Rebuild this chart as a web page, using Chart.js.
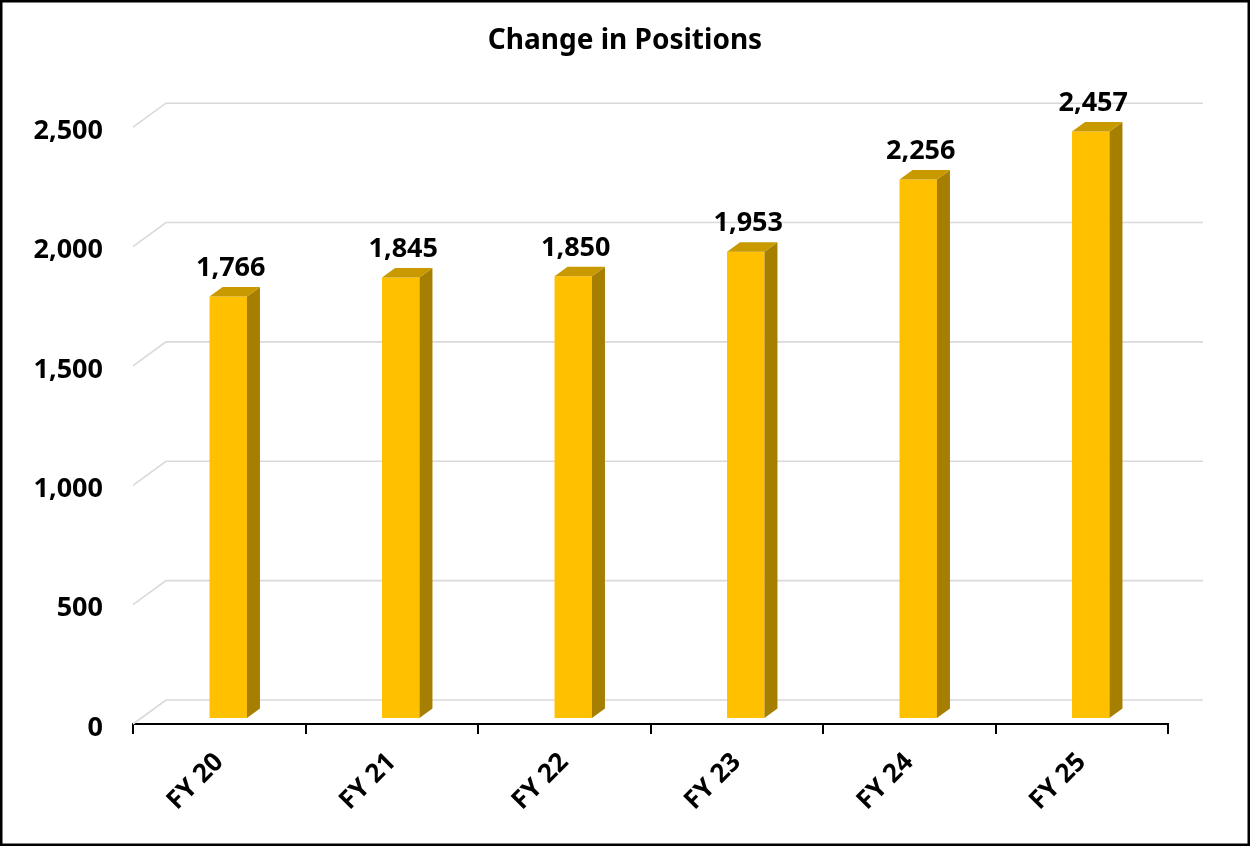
<!DOCTYPE html>
<html>
<head>
<meta charset="utf-8">
<script src="https://cdn.jsdelivr.net/npm/chart.js@4/dist/chart.umd.min.js"></script>
<style>
  html, body { margin: 0; padding: 0; background: #fff; }
  canvas { display: block; }
</style>
</head>
<body>
<canvas id="chart" width="1250" height="846"></canvas>
<script>
const categories = ["FY 20", "FY 21", "FY 22", "FY 23", "FY 24", "FY 25"];
const positions = [1766, 1845, 1850, 1953, 2256, 2457];
const yTicks = [0, 500, 1000, 1500, 2000, 2500];

const FONT = "'Noto Sans', 'Open Sans', sans-serif";
const FRONT = "#FFC000";
const SIDE = "#A67F00";
const TOP = "#C99A00";

// depth of the floor/back wall and of the bars (pixels)
const WALL_DX = 33, WALL_DY = -24;
const BAR_SHIFT_X = 9, BAR_SHIFT_Y = -6;
const BAR_DX = 13, BAR_DY = -9.5;

function fmt(v) { return Number(v).toLocaleString("en-US"); }

const threeD = {
  id: "threeD",
  beforeDatasetsDraw(chart) {
    const { ctx, chartArea, scales } = chart;
    const y = scales.y;
    ctx.save();
    ctx.strokeStyle = "#d9d9d9";
    ctx.lineWidth = 1.6;
    for (const v of yTicks) {
      const py = y.getPixelForValue(v);
      ctx.beginPath();
      ctx.moveTo(chartArea.left, py);
      ctx.lineTo(chartArea.left + WALL_DX, py + WALL_DY);
      ctx.lineTo(chartArea.right + WALL_DX + 2, py + WALL_DY);
      ctx.stroke();
    }
    ctx.restore();
    ctx.save();
    ctx.translate(BAR_SHIFT_X, BAR_SHIFT_Y);
  },
  afterDatasetsDraw(chart) {
    const { ctx } = chart;
    ctx.restore();
    const meta = chart.getDatasetMeta(0);
    ctx.save();
    meta.data.forEach((bar, i) => {
      const p = bar.getProps(["x", "y", "base", "width"], true);
      const xl = p.x - p.width / 2 + BAR_SHIFT_X;
      const xr = p.x + p.width / 2 + BAR_SHIFT_X;
      const yt = p.y + BAR_SHIFT_Y;
      const yb = p.base + BAR_SHIFT_Y;
      // side
      ctx.fillStyle = SIDE;
      ctx.beginPath();
      ctx.moveTo(xr, yt);
      ctx.lineTo(xr + BAR_DX, yt + BAR_DY);
      ctx.lineTo(xr + BAR_DX, yb + BAR_DY);
      ctx.lineTo(xr, yb);
      ctx.closePath();
      ctx.fill();
      // top
      ctx.fillStyle = TOP;
      ctx.beginPath();
      ctx.moveTo(xl, yt);
      ctx.lineTo(xl + BAR_DX, yt + BAR_DY);
      ctx.lineTo(xr + BAR_DX, yt + BAR_DY);
      ctx.lineTo(xr, yt);
      ctx.closePath();
      ctx.fill();
      // value label
      ctx.fillStyle = "#000";
      ctx.font = "bold 27px " + FONT;
      ctx.textAlign = "center";
      ctx.textBaseline = "alphabetic";
      ctx.fillText(fmt(positions[i]), (xl + xr) / 2 + BAR_DX / 2 - 4, yt + BAR_DY - 11);
    });
    ctx.restore();
  },
  afterDraw(chart) {
    const { ctx } = chart;
    ctx.save();
    ctx.strokeStyle = "#000";
    ctx.lineWidth = 2.5;
    ctx.strokeRect(1.25, 1.25, chart.width - 2.5, chart.height - 2.5);
    ctx.restore();
  }
};

new Chart(document.getElementById("chart").getContext("2d"), {
  type: "bar",
  data: {
    labels: categories,
    datasets: [{
      data: positions,
      backgroundColor: FRONT,
      borderWidth: 0,
      barPercentage: 0.217,
      categoryPercentage: 1
    }]
  },
  options: {
    responsive: false,
    animation: false,
    layout: { padding: 0 },
    plugins: {
      legend: { display: false },
      tooltip: { enabled: false },
      title: {
        display: true,
        text: "Change in Positions",
        color: "#000",
        font: { family: FONT, size: 28, weight: "bold" },
        padding: { top: 24, bottom: 69.6 }
      }
    },
    scales: {
      x: {
        offset: true,
        grid: { offset: true, drawOnChartArea: false, drawTicks: true, tickLength: 10, color: "#000", lineWidth: 2 },
        border: { display: true, color: "#000", width: 2 },
        ticks: {
          minRotation: 45, maxRotation: 45, padding: 13,
          color: "#000", font: { family: FONT, size: 26, weight: "bold" }
        },
        afterFit(scale) { scale.height = 846 - 724; }
      },
      y: {
        min: 0, max: 2500,
        grid: { display: false, drawTicks: false },
        border: { display: false },
        ticks: {
          stepSize: 500, padding: 30, labelOffset: 4,
          color: "#000", font: { family: FONT, size: 27, weight: "bold" },
          callback: (v) => fmt(v)
        },
        afterFit(scale) { scale.width = 133; }
      },
      // empty right-hand strip so the plot ends where the reference does
      yRight: {
        position: "right",
        min: 0, max: 2500,
        grid: { display: false, drawTicks: false },
        border: { display: false },
        ticks: { display: false },
        afterFit(scale) { scale.width = 82; }
      }
    }
  },
  plugins: [threeD]
});
</script>
</body>
</html>
